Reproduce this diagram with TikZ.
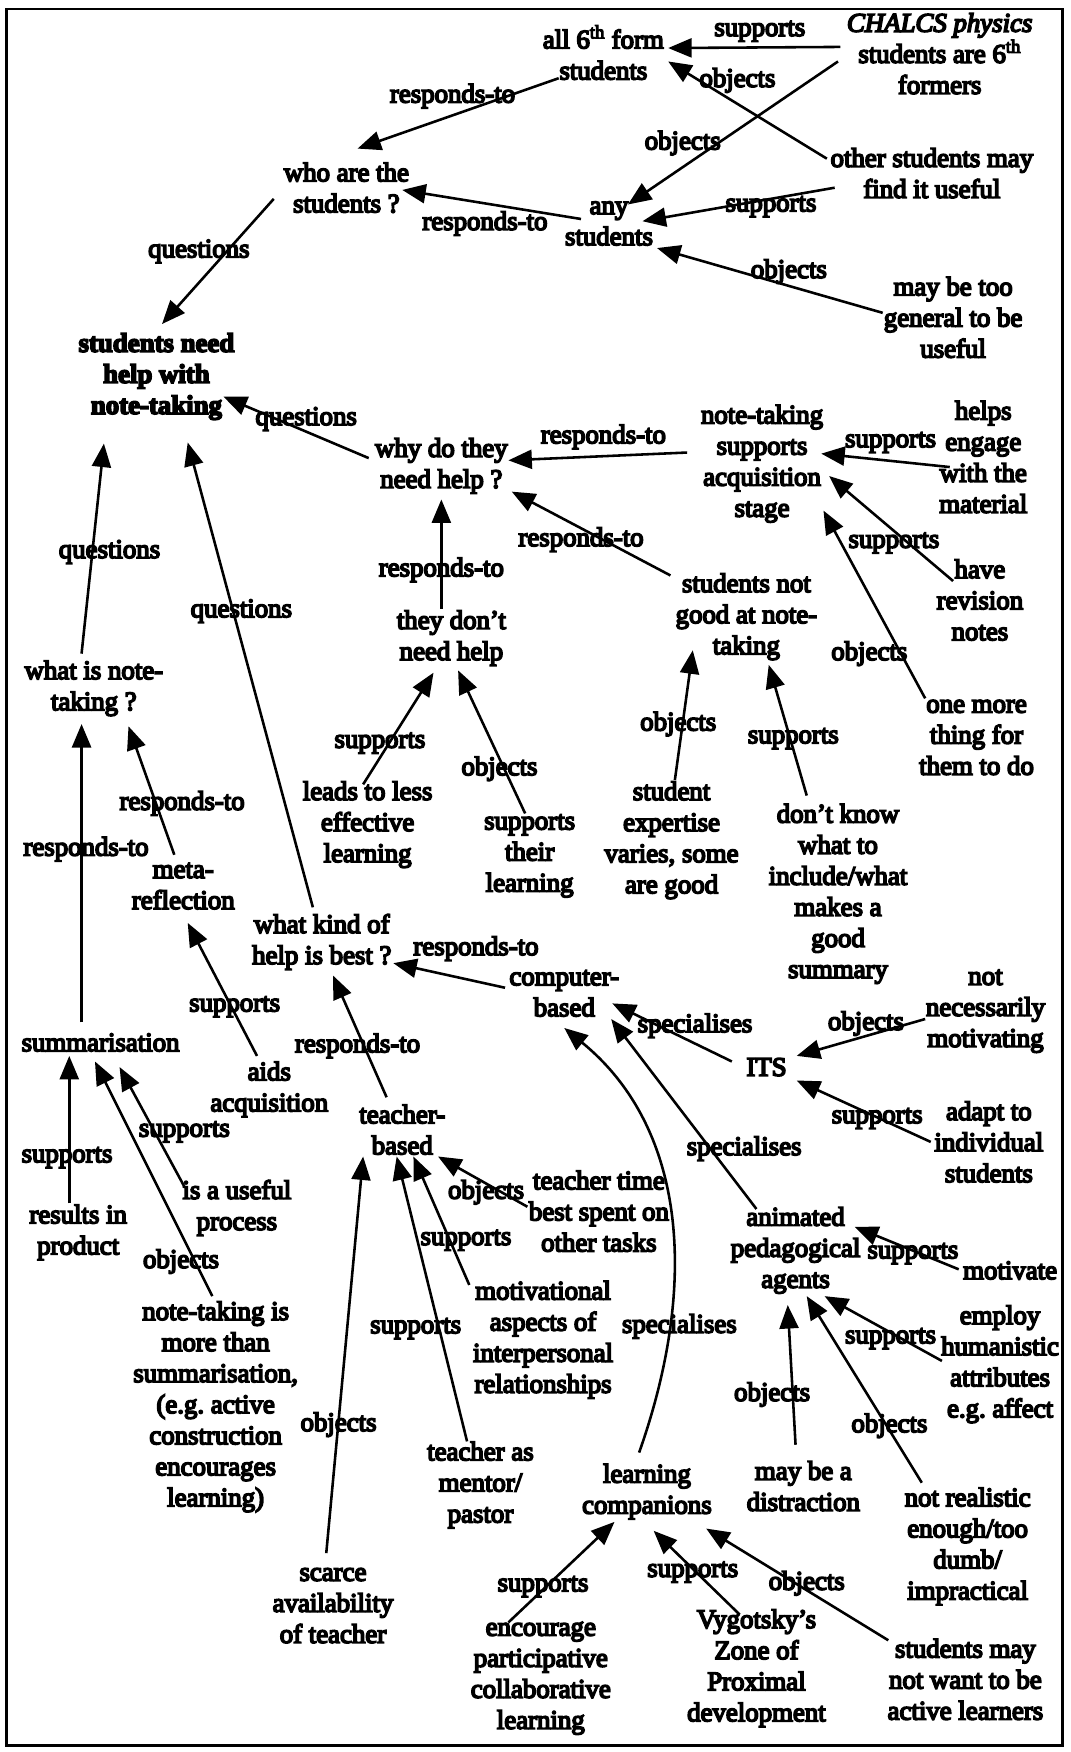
\documentclass[tikz,border=0pt]{standalone}
\usepackage{fontspec}
\setmainfont{Liberation Serif}[FakeBold=6]
\usetikzlibrary{arrows.meta}
\begin{document}
\begin{tikzpicture}[x=1pt,y=-1pt,
  txt/.style={align=center,inner sep=0pt,font=\fontsize{24}{27.8}\selectfont},
  lbl/.style={inner sep=0pt,font=\fontsize{24}{27.8}\selectfont},
  arr/.style={line width=2.3pt,-{Triangle[length=21pt,width=17pt]}}]
\useasboundingbox (0,0) rectangle (958,1568);
\draw[line width=2.4pt] (6,8) rectangle (951,1562);

% concepts
\node[txt] (all6) at (540,47) {all 6\textsuperscript{th} form\\students};
\node[txt] (chalcs) at (841,48) {\textit{CHALCS physics}\\students are 6\textsuperscript{th}\\formers};
\node[txt] (who) at (310,168) {who are the\\students ?};
\node[txt] (any) at (545,200) {any\\students};
\node[txt] (other) at (834,155) {other students may\\find it useful};
\node[txt] (general) at (853,284) {may be too\\general to be\\useful};
\node[txt,font=\fontsize{24}{27.8}\selectfont\bfseries] (main) at (140,337) {students need\\help with\\note-taking};
\node[txt] (why) at (395,417) {why do they\\need help ?};
\node[txt] (ntsupp) at (682,415) {note-taking\\supports\\acquisition\\stage};
\node[txt] (helps) at (880,409) {helps\\engage\\with the\\material};
\node[txt] (revision) at (877,537) {have\\revision\\notes};
\node[txt] (dontneed) at (404,571) {they don't\\need help};
\node[txt] (notgood) at (668,552) {students not\\good at note-\\taking};
\node[txt] (onemore) at (874,660) {one more\\thing for\\them to do};
\node[txt] (whatis) at (84,616) {what is note-\\taking ?};
\node[txt] (leads) at (329,738) {leads to less\\effective\\learning};
\node[txt] (suppthe) at (474,766) {supports\\their\\learning};
\node[txt] (expertise) at (601,752) {student\\expertise\\varies, some\\are good};
\node[txt] (dontknow) at (750,800) {don't know\\what to\\include/what\\makes a\\good\\summary};
\node[txt] (meta) at (164,793) {meta-\\reflection};
\node[txt] (whatkind) at (288,843) {what kind of\\help is best ?};
\node[txt] (computer) at (505,889) {computer-\\based};
\node[txt] (notnec) at (882,905) {not\\necessarily\\motivating};
\node[txt] (its) at (686,955) {ITS};
\node[txt] (summ) at (90,933) {summarisation};
\node[txt] (aids) at (241,975) {aids\\acquisition};
\node[txt] (teacher) at (360,1011) {teacher-\\based};
\node[txt] (adapt) at (885,1022) {adapt to\\individual\\students};
\node[txt] (results) at (70,1103) {results in\\product};
\node[txt] (useful) at (212,1081) {is a useful\\process};
\node[txt] (ttime) at (536,1084) {teacher time\\best spent on\\other tasks};
\node[txt] (animated) at (712,1119) {animated\\pedagogical\\agents};
\node[txt] (motivate) at (904,1137) {motivate};
\node[txt] (motivational) at (486,1199) {motivational\\aspects of\\interpersonal\\relationships};
\node[txt] (employ) at (895,1221) {employ\\humanistic\\attributes\\e.g.\ affect};
\node[txt] (notemore) at (193,1259) {note-taking is\\more than\\summarisation,\\(e.g.\ active\\construction\\encourages\\learning)};
\node[txt] (mentor) at (430,1329) {teacher as\\mentor/\\pastor};
\node[txt] (companions) at (579,1335) {learning\\companions};
\node[txt] (distraction) at (719,1330) {may be a\\distraction};
\node[txt] (notreal) at (866,1384) {not realistic\\enough/too\\dumb/\\impractical};
\node[txt] (scarce) at (298,1437) {scarce\\availability\\of teacher};
\node[txt] (encourage) at (484,1502) {encourage\\participative\\collaborative\\learning};
\node[txt] (vygotsky) at (677,1493) {Vygotsky's\\Zone of\\Proximal\\development};
\node[txt] (studmay) at (864,1503) {students may\\not want to be\\active learners};

% relation labels
\node[lbl] (l1) at (680,28) {supports};
\node[lbl] (l2) at (611,128) {objects};
\node[lbl] (l3) at (660,72) {objects};
\node[lbl] (l4) at (690,185) {supports};
\node[lbl] (l5) at (706,243) {objects};
\node[lbl] (l6) at (405,86) {responds-to};
\node[lbl] (l7) at (434,200) {responds-to};
\node[lbl] (l8) at (178,225) {questions};
\node[lbl] (l9) at (274,375) {questions};
\node[lbl] (l10) at (540,391) {responds-to};
\node[lbl] (l11) at (797,396) {supports};
\node[lbl] (l12) at (800,486) {supports};
\node[lbl] (l13) at (778,585) {objects};
\node[lbl] (l14) at (520,483) {responds-to};
\node[lbl] (l15) at (395,510) {responds-to};
\node[lbl] (l16) at (340,665) {supports};
\node[lbl] (l17) at (447,688) {objects};
\node[lbl] (l18) at (607,648) {objects};
\node[lbl] (l19) at (710,661) {supports};
\node[lbl] (l20) at (98,494) {questions};
\node[lbl] (l21) at (216,547) {questions};
\node[lbl] (l22) at (77,760) {responds-to};
\node[lbl] (l23) at (163,719) {responds-to};
\node[lbl] (l24) at (210,901) {supports};
\node[lbl] (l25) at (426,849) {responds-to};
\node[lbl] (l26) at (320,936) {responds-to};
\node[lbl] (l27) at (622,918) {specialises};
\node[lbl] (l28) at (666,1028) {specialises};
\node[lbl] (l29) at (608,1187) {specialises};
\node[lbl] (l30) at (775,916) {objects};
\node[lbl] (l31) at (785,1001) {supports};
\node[lbl] (l32) at (165,1013) {supports};
\node[lbl] (l33) at (60,1036) {supports};
\node[lbl] (l34) at (162,1129) {objects};
\node[lbl] (l35) at (435,1067) {objects};
\node[lbl] (l36) at (417,1110) {supports};
\node[lbl] (l37) at (372,1189) {supports};
\node[lbl] (l38) at (303,1275) {objects};
\node[lbl] (l39) at (817,1122) {supports};
\node[lbl] (l40) at (797,1198) {supports};
\node[lbl] (l41) at (691,1248) {objects};
\node[lbl] (l42) at (796,1276) {objects};
\node[lbl] (l43) at (486,1420) {supports};
\node[lbl] (l44) at (620,1407) {supports};
\node[lbl] (l45) at (722,1417) {objects};

% relations
\draw[arr] ([shift={(-89,-6)}]chalcs.center) -- ([shift={(58,-4)}]all6.center);
\draw[arr] ([shift={(-91,7)}]chalcs.center) -- ([shift={(17,-17)}]any.center);
\draw[arr] ([shift={(-94,-13)}]other.center) -- ([shift={(58,8)}]all6.center);
\draw[arr] ([shift={(-87,13)}]other.center) -- ([shift={(30,-2)}]any.center);
\draw[arr] ([shift={(-63,-4)}]general.center) -- ([shift={(43,22)}]any.center);
\draw[arr] ([shift={(-40,23)}]all6.center) -- ([shift={(10,-35)}]who.center);
\draw[arr] ([shift={(-25,-4)}]any.center) -- ([shift={(50,2)}]who.center);
\draw[arr] ([shift={(-65,10)}]who.center) -- ([shift={(5,-47)}]main.center);
\draw[arr] ([shift={(-65,-7)}]why.center) -- ([shift={(60,18)}]main.center);
\draw[arr] ([shift={(-67,-10)}]ntsupp.center) -- ([shift={(60,-5)}]why.center);
\draw[arr] ([shift={(-30,9)}]helps.center) -- ([shift={(53,-9)}]ntsupp.center);
\draw[arr] ([shift={(-24,-17)}]revision.center) -- ([shift={(60,11)}]ntsupp.center);
\draw[arr] ([shift={(-46,-35)}]onemore.center) -- ([shift={(55,42)}]ntsupp.center);
\draw[arr] ([shift={(-68,-37)}]notgood.center) -- ([shift={(63,23)}]why.center);
\draw[arr] ([shift={(-9,-26)}]dontneed.center) -- ([shift={(0,30)}]why.center);
\draw[arr] ([shift={(-4,-36)}]leads.center) -- ([shift={(-16,31)}]dontneed.center);
\draw[arr] ([shift={(-4,-38)}]suppthe.center) -- ([shift={(6,29)}]dontneed.center);
\draw[arr] ([shift={(3,-54)}]expertise.center) -- ([shift={(-48,30)}]notgood.center);
\draw[arr] ([shift={(-28,-88)}]dontknow.center) -- ([shift={(20,43)}]notgood.center);
\draw[arr] ([shift={(-11,-31)}]whatis.center) -- ([shift={(-47,60)}]main.center);
\draw[arr] ([shift={(-8,-31)}]whatkind.center) -- ([shift={(28,59)}]main.center);
\draw[arr] ([shift={(-17,-18)}]summ.center) -- ([shift={(-11,32)}]whatis.center);
\draw[arr] ([shift={(-8,-28)}]meta.center) -- ([shift={(31,34)}]whatis.center);
\draw[arr] ([shift={(-11,-30)}]aids.center) -- ([shift={(4,33)}]meta.center);
\draw[arr] ([shift={(-53,-5)}]computer.center) -- ([shift={(64,19)}]whatkind.center);
\draw[arr] ([shift={(-14,-29)}]teacher.center) -- ([shift={(10,30)}]whatkind.center);
\draw[arr] ([shift={(-31,-5)}]its.center) -- ([shift={(43,9)}]computer.center);
\draw[arr] ([shift={(-35,-37)}]animated.center) -- ([shift={(42,23)}]computer.center);
\draw[arr] ([shift={(-7,-35)}]companions.center) .. controls (625,1150) and (615,1010) .. ([shift={(0,31)}]computer.center);
\draw[arr] ([shift={(-54,7)}]notnec.center) -- ([shift={(27,-10)}]its.center);
\draw[arr] ([shift={(-52,0)}]adapt.center) -- ([shift={(27,12)}]its.center);
\draw[arr] ([shift={(-47,-19)}]useful.center) -- ([shift={(17,22)}]summ.center);
\draw[arr] ([shift={(-8,-26)}]results.center) -- ([shift={(-28,12)}]summ.center);
\draw[arr] ([shift={(-3,-99)}]notemore.center) -- ([shift={(-5,17)}]summ.center);
\draw[arr] ([shift={(-64,-4)}]ttime.center) -- ([shift={(32,24)}]teacher.center);
\draw[arr] ([shift={(-66,-49)}]motivational.center) -- ([shift={(10,24)}]teacher.center);
\draw[arr] ([shift={(-12,-39)}]mentor.center) -- ([shift={(-5,24)}]teacher.center);
\draw[arr] ([shift={(-6,-47)}]scarce.center) -- ([shift={(-35,24)}]teacher.center);
\draw[arr] ([shift={(-46,-1)}]motivate.center) -- ([shift={(53,-21)}]animated.center);
\draw[arr] ([shift={(-52,-3)}]employ.center) -- ([shift={(26,41)}]animated.center);
\draw[arr] ([shift={(-7,-37)}]distraction.center) -- ([shift={(-7,49)}]animated.center);
\draw[arr] ([shift={(-41,-57)}]notreal.center) -- ([shift={(10,41)}]animated.center);
\draw[arr] ([shift={(-29,-50)}]encourage.center) -- ([shift={(-29,27)}]companions.center);
\draw[arr] ([shift={(-15,-48)}]vygotsky.center) -- ([shift={(6,35)}]companions.center);
\draw[arr] ([shift={(-69,-35)}]studmay.center) -- ([shift={(53,33)}]companions.center);
\end{tikzpicture}
\end{document}
